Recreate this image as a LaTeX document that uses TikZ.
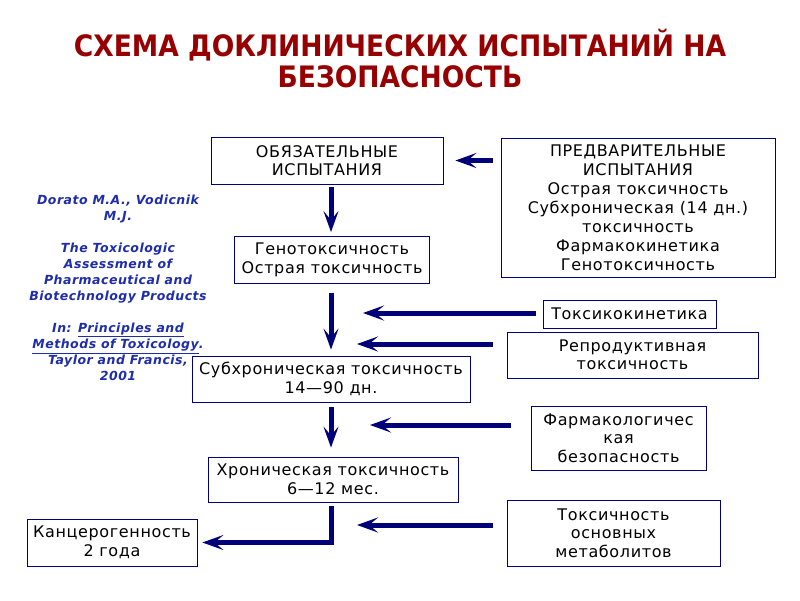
\documentclass[tikz,border=0pt]{standalone}
\usepackage{fontspec}
\setmainfont{DejaVu Sans}[LetterSpace=4]
\newfontfamily\titlefont{DejaVu Sans}[FakeStretch=0.9]
\usetikzlibrary{arrows.meta}
\definecolor{navy}{RGB}{0,0,120}
\definecolor{titlered}{RGB}{150,0,0}
\definecolor{refblue}{RGB}{30,45,170}
\tikzset{
  box/.style={draw=navy, line width=0.8pt, fill=white, align=center,
    inner sep=0pt, font=\fontsize{16}{18.5}\selectfont},
  flow/.style={draw=navy, line width=5pt,
    -{Stealth[length=21pt,width=15pt,inset=9pt]}},
}
\begin{document}
\begin{tikzpicture}[x=1pt,y=-1pt]
    \useasboundingbox (0,0) rectangle (800,600);

    % Title
    \node[font=\titlefont\bfseries\fontsize{29.5}{31}\selectfont, text=titlered, align=center] (title) at (400,59)
      {СХЕМА ДОКЛИНИЧЕСКИХ ИСПЫТАНИЙ НА\\БЕЗОПАСНОСТЬ};

    % Reference
    \node[font=\bfseries\itshape\fontsize{12.5}{16}\selectfont, text=refblue, align=center] (ref) at (118,288)
      {Dorato M.A., Vodicnik\\M.J.\\[16pt]The Toxicologic\\Assessment of\\Pharmaceutical and\\Biotechnology Products\\[16pt]
       In: \underline{Principles and}\\\underline{Methods of Toxicology}.\\Taylor and Francis,\\2001};

    % Main column
    \node[box, minimum width=232, minimum height=47] (oblig) at (327,160.5)
      {ОБЯЗАТЕЛЬНЫЕ\\ИСПЫТАНИЯ};
    \node[box, minimum width=195, minimum height=47] (geno) at (332,260)
      {Генотоксичность\\Острая токсичность};
    \node[box, minimum width=278, minimum height=46] (subchr) at (331,379)
      {Субхроническая токсичность\\14—90 дн.};
    \node[box, minimum width=250, minimum height=45] (chron) at (333,479.5)
      {Хроническая токсичность\\6—12 мес.};
    \node[box, minimum width=170, minimum height=47] (carc) at (112,542.5)
      {Канцерогенность\\2 года};

    % Side boxes
    \node[box, minimum width=274, minimum height=139, font=\fontsize{16}{19}\selectfont] (prelim) at (638,207.5)
      {ПРЕДВАРИТЕЛЬНЫЕ\\ИСПЫТАНИЯ\\Острая токсичность\\Субхроническая (14 дн.)\\токсичность\\Фармакокинетика\\Генотоксичность};
    \node[box, minimum width=173, minimum height=28] (kinet) at (629.5,314)
      {Токсикокинетика};
    \node[box, minimum width=251, minimum height=46] (repro) at (632.5,355)
      {Репродуктивная\\токсичность};
    \node[box, minimum width=175, minimum height=64] (pharm) at (618.5,438)
      {Фармакологичес\\кая\\безопасность};
    \node[box, minimum width=213, minimum height=66] (metab) at (613.5,533)
      {Токсичность\\основных\\метаболитов};

    % Arrow ends
    \coordinate (spine) at (331,0);
    \coordinate (kinetEnd) at (363,313);
    \coordinate (reproEnd) at (357,344);
    \coordinate (pharmEnd) at (370,425);
    \coordinate (metabEnd) at (357,525);

    % Vertical flow
    \draw[flow, shorten <=3pt, shorten >=4pt] (oblig.south -| spine) -- (geno.north -| spine);
    \draw[flow, shorten <=9pt, shorten >=6pt] (geno.south -| spine) -- (subchr.north -| spine);
    \draw[flow, shorten <=5pt, shorten >=9pt] (subchr.south -| spine) -- (chron.north -| spine);
    \draw[flow, shorten <=4pt, shorten >=5pt] (chron.south -| spine) |- (carc.east);

    % Side arrows
    \draw[flow, shorten <=8pt, shorten >=12pt] (prelim.west |- oblig.east) -- (oblig.east);
    \draw[flow, shorten <=7pt] (kinet.west |- kinetEnd) -- (kinetEnd);
    \draw[flow, shorten <=14pt] (repro.west |- reproEnd) -- (reproEnd);
    \draw[flow, shorten <=20pt] (pharm.west |- pharmEnd) -- (pharmEnd);
    \draw[flow, shorten <=14pt] (metab.west |- metabEnd) -- (metabEnd);
\end{tikzpicture}
\end{document}
